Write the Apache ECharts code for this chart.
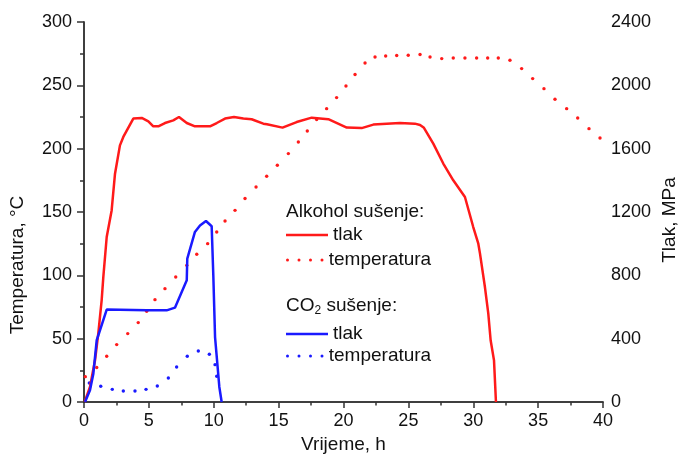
<!DOCTYPE html>
<html>
<head>
<meta charset="utf-8">
<script src="https://cdn.jsdelivr.net/npm/echarts@6/dist/echarts.min.js"></script>
<style>
html,body{margin:0;padding:0;background:#fff;}
#c{width:680px;height:459px;}
</style>
</head>
<body>
<div id="c"></div>
<script>
// ---- data ----
// Alkohol sušenje – tlak (MPa, right axis)
const alkTlakH = [0.05, 0.46, 0.85, 1.1, 1.36, 1.49, 1.75, 2.13, 2.39, 2.77, 3.03, 3.8, 4.45, 4.96, 5.34, 5.73, 6.24, 6.88, 7.32, 7.92, 8.55, 9.71, 10.23, 10.87, 11.56, 12.28, 12.92, 13.82, 14.1, 15.3, 16.39, 17.55, 18.83, 20.25, 21.4, 22.3, 24.35, 25.5, 25.9, 26.2, 26.92, 27.69, 28.46, 29.36, 30.0, 30.39, 30.52, 30.9, 31.16, 31.34, 31.6, 31.75];
const alkTlakP = [0, 95, 263, 432, 642, 790, 1042, 1210, 1442, 1621, 1674, 1790, 1794, 1773, 1741, 1741, 1762, 1779, 1800, 1762, 1741, 1741, 1762, 1790, 1800, 1790, 1786, 1758, 1754, 1733, 1768, 1796, 1786, 1733, 1730, 1752, 1762, 1758, 1750, 1732, 1632, 1506, 1400, 1295, 1105, 1000, 937, 726, 558, 390, 263, 0];
// Alkohol sušenje – temperatura (°C, left axis)
const alkTempH = [0.1, 0.98, 1.75, 2.52, 3.37, 4.18, 4.83, 5.47, 6.24, 7.07, 7.92, 8.69, 9.53, 10.23, 10.87, 11.64, 12.41, 13.26, 14.08, 14.9, 15.75, 16.52, 17.21, 17.93, 18.7, 19.47, 20.19, 20.89, 21.66, 22.43, 23.25, 24.1, 24.99, 25.9, 26.67, 27.57, 28.46, 29.36, 30.26, 31.11, 31.93, 32.83, 33.73, 34.58, 35.45, 36.3, 37.2, 38.05, 38.92, 39.77];
const alkTempT = [20, 27.2, 36.1, 45.3, 54, 62.7, 71.6, 80.8, 89.5, 98.7, 107.9, 116.6, 125, 134.2, 142.9, 151.3, 160.6, 169.7, 178.2, 186.9, 196.1, 205.3, 214, 223, 231.6, 240.3, 249.5, 258.5, 267.6, 272.4, 273.2, 273.5, 273.7, 274.3, 272.4, 271.1, 271.6, 271.6, 271.6, 271.6, 271.6, 269.8, 263.2, 255.3, 247.4, 239, 231.6, 224.2, 215.8, 208.4];
// CO2 sušenje – tlak (MPa, right axis)
const co2TlakH = [0.08, 0.46, 0.72, 0.98, 1.75, 4.83, 6.37, 7.01, 7.92, 7.96, 8.55, 8.94, 9.4, 9.84, 9.97, 10.1, 10.43, 10.61];
const co2TlakP = [0, 74, 179, 390, 584, 579, 579, 596, 769, 906, 1074, 1115, 1143, 1110, 790, 410, 95, 0];
// CO2 sušenje – temperatura (°C, left axis)
const co2TempH = [0.41, 1.29, 2.18, 3.03, 3.93, 4.78, 5.65, 6.5, 7.14, 7.96, 8.81, 9.66, 10.1, 10.23];
const co2TempT = [15, 12.4, 10, 8.7, 8.7, 10, 12.6, 18.9, 27.6, 36.1, 40.3, 37.7, 29.5, 20.3];

const xTitle = 'Vrijeme, h';
const yLeftTitle = 'Temperatura, °C';
const yRightTitle = 'Tlak, MPa';
const legendLabels = {
  'alk_tlak': 'tlak', 'alk_temp': 'temperatura',
  'co2_tlak': 'tlak', 'co2_temp': 'temperatura'
};

// ---- chart ----
const zip = (a, b) => a.map((v, i) => [v, b[i]]);
const FONT = 'Liberation Sans, Arial, Helvetica, sans-serif';
const RED = '#ff1a1a';
const BLUE = '#1a1aff';
const AX = '#333333';
const dotsIcon = 'path://M0,1.5a1.5,1.5 0 1,0 3,0a1.5,1.5 0 1,0 -3,0Z M11.5,1.5a1.5,1.5 0 1,0 3,0a1.5,1.5 0 1,0 -3,0Z M23,1.5a1.5,1.5 0 1,0 3,0a1.5,1.5 0 1,0 -3,0Z M34.5,1.5a1.5,1.5 0 1,0 3,0a1.5,1.5 0 1,0 -3,0Z';
const lineIcon = 'path://M0,0L42,0L42,2.5L0,2.5Z';
const plain = v => String(v);

function legendAt(name, top, icon, w, h) {
  return {
    data: [{ name: name, icon: icon }],
    left: 286, top: top, orient: 'vertical', padding: 0,
    itemWidth: w, itemHeight: h, selectedMode: false,
    formatter: n => legendLabels[n],
    textStyle: { fontSize: 19, fontFamily: FONT, color: '#111', lineHeight: 20 }
  };
}

const chart = echarts.init(document.getElementById('c'), null, { renderer: 'canvas' });
chart.setOption({
  animation: false,
  backgroundColor: '#ffffff',
  grid: { left: 84, right: 77, top: 22, bottom: 57, containLabel: false },
  xAxis: [{
    type: 'value', min: 0, max: 40, interval: 5, position: 'bottom',
    axisLine: { lineStyle: { color: AX, width: 1.5 } },
    axisTick: { length: 6, lineStyle: { color: AX, width: 1.5 } },
    minorTick: { show: true, splitNumber: 2, length: 3.5, lineStyle: { color: AX, width: 1.5 } },
    splitLine: { show: false },
    axisLabel: { fontSize: 18, fontFamily: FONT, color: '#111', margin: 10, formatter: plain },
    name: xTitle, nameLocation: 'middle', nameGap: 30,
    nameTextStyle: { fontSize: 19, fontFamily: FONT, color: '#111' }
  }, {
    type: 'value', min: 0, max: 40, position: 'top',
    axisLine: { show: true, lineStyle: { color: AX, width: 1.5 } },
    axisTick: { show: false }, axisLabel: { show: false }, splitLine: { show: false }
  }],
  yAxis: [{
    type: 'value', min: 0, max: 300, interval: 50, position: 'left',
    axisLine: { show: true, lineStyle: { color: AX, width: 1.5 } },
    axisTick: { show: true, length: 7, lineStyle: { color: AX, width: 1.5 } },
    minorTick: { show: true, splitNumber: 2, length: 4, lineStyle: { color: AX, width: 1.5 } },
    splitLine: { show: false },
    axisLabel: { fontSize: 18, fontFamily: FONT, color: '#111', margin: 12, formatter: plain }
  }, {
    type: 'value', min: 0, max: 2400, interval: 400, position: 'right',
    axisLine: { show: true, lineStyle: { color: AX, width: 1.5 } },
    axisTick: { show: true, inside: true, length: 7, lineStyle: { color: AX, width: 1.5 } },
    minorTick: { show: true, splitNumber: 2, length: 4, lineStyle: { color: AX, width: 1.5 } },
    splitLine: { show: false },
    axisLabel: { fontSize: 18, fontFamily: FONT, color: '#111', margin: 8, formatter: plain }
  }],
  legend: [
    legendAt('alk_tlak', 225, lineIcon, 42, 2.5),
    legendAt('alk_temp', 250, dotsIcon, 38, 3),
    legendAt('co2_tlak', 324, lineIcon, 42, 2.5),
    legendAt('co2_temp', 346, dotsIcon, 38, 3)
  ],
  graphic: [
    { type: 'text', x: 18, y: 265, rotation: Math.PI / 2,
      style: { text: yLeftTitle, fontSize: 19, fontFamily: FONT, fill: '#111', align: 'center', verticalAlign: 'middle' } },
    { type: 'text', x: 670, y: 220, rotation: Math.PI / 2,
      style: { text: yRightTitle, fontSize: 19, fontFamily: FONT, fill: '#111', align: 'center', verticalAlign: 'middle' } },
    { type: 'text', x: 286, y: 212,
      style: { text: 'Alkohol sušenje:', fontSize: 19, fontFamily: FONT, fill: '#111', align: 'left', verticalAlign: 'middle' } },
    { type: 'text', x: 286, y: 306,
      style: { text: 'CO{s|2} sušenje:', fontSize: 19, fontFamily: FONT, fill: '#111', align: 'left', verticalAlign: 'middle',
        rich: { s: { fontSize: 12, fontFamily: FONT, fill: '#111', padding: [10, 0, 0, 0] } } } }
  ],
  series: [
    { name: 'alk_tlak', type: 'line', xAxisIndex: 0, yAxisIndex: 1, data: zip(alkTlakH, alkTlakP),
      showSymbol: false, symbol: 'none', color: RED, lineStyle: { color: RED, width: 2.5 }, z: 3, silent: true },
    { name: 'alk_temp', type: 'line', xAxisIndex: 0, yAxisIndex: 0, data: zip(alkTempH, alkTempT),
      symbol: 'circle', symbolSize: 3.4, showAllSymbol: true, color: RED,
      itemStyle: { color: RED, borderWidth: 0 }, lineStyle: { width: 0, opacity: 0 }, z: 2, silent: true },
    { name: 'co2_tlak', type: 'line', xAxisIndex: 0, yAxisIndex: 1, data: zip(co2TlakH, co2TlakP),
      showSymbol: false, symbol: 'none', color: BLUE, lineStyle: { color: BLUE, width: 2.5 }, z: 4, silent: true },
    { name: 'co2_temp', type: 'line', xAxisIndex: 0, yAxisIndex: 0, data: zip(co2TempH, co2TempT),
      symbol: 'circle', symbolSize: 3.4, showAllSymbol: true, color: BLUE,
      itemStyle: { color: BLUE, borderWidth: 0 }, lineStyle: { width: 0, opacity: 0 }, z: 2, silent: true }
  ]
});
</script>
</body>
</html>
